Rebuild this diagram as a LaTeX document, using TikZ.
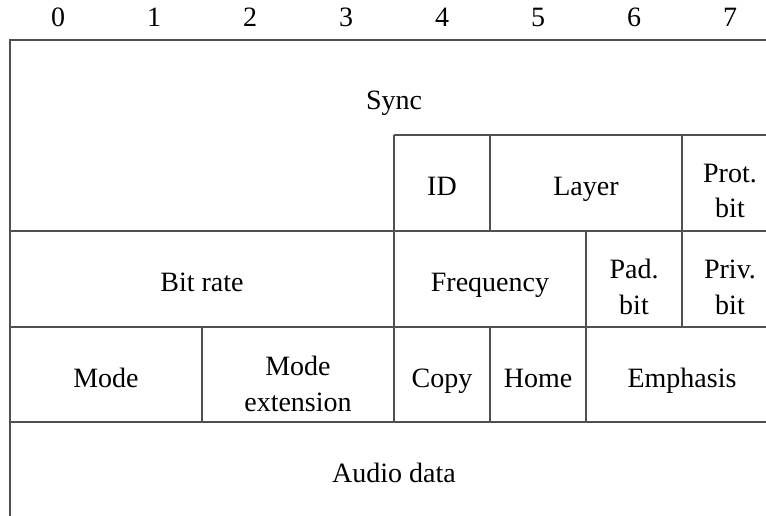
\documentclass[tikz,border=0pt]{standalone}
\usepackage{fontspec}
\setmainfont{Liberation Serif}
\definecolor{rule}{RGB}{80,80,80}
\begin{document}
\begin{tikzpicture}[x=1pt,y=-1pt,
  lbl/.style={anchor=base,inner sep=0pt,font=\fontsize{28}{35.5}\selectfont,align=center},
  rl/.style={draw=rule,line width=1.1pt}]
\useasboundingbox (0,0) rectangle (766,516);
% grid lines
\draw[rl] (766,40) -- (10,40) -- (10,516);
\draw[rl] (394,135) -- (766,135);
\draw[rl] (10,231) -- (766,231);
\draw[rl] (10,327) -- (766,327);
\draw[rl] (10,422) -- (766,422);
\draw[rl] (394,135) -- (394,422);
\draw[rl] (490,135) -- (490,231);
\draw[rl] (682,135) -- (682,327);
\draw[rl] (586,231) -- (586,422);
\draw[rl] (202,327) -- (202,422);
\draw[rl] (490,327) -- (490,422);
% bit numbers
\foreach \i in {0,...,7} {
  \node[lbl] (b\i) at (58+96*\i,27) {\i};
}
% fields (two-line labels are placed by their last baseline)
\node[lbl] (sync) at (394,110) {Sync};
\node[lbl] (id) at (442,195) {ID};
\node[lbl] (layer) at (586,195) {Layer};
\node[lbl] (prot) at (730,218) {Prot.\\bit};
\node[lbl] (bitrate) at (202,291) {Bit rate};
\node[lbl] (freq) at (490,291) {Frequency};
\node[lbl] (pad) at (634,314) {Pad.\\bit};
\node[lbl] (priv) at (730,314) {Priv.\\bit};
\node[lbl] (mode) at (106,387) {Mode};
\node[lbl] (modeext) at (298,411) {Mode\\extension};
\node[lbl] (copy) at (442,387) {Copy};
\node[lbl] (home) at (538,387) {Home};
\node[lbl] (emph) at (682,387) {Emphasis};
\node[lbl] (audio) at (394,482) {Audio data};
\end{tikzpicture}
\end{document}
